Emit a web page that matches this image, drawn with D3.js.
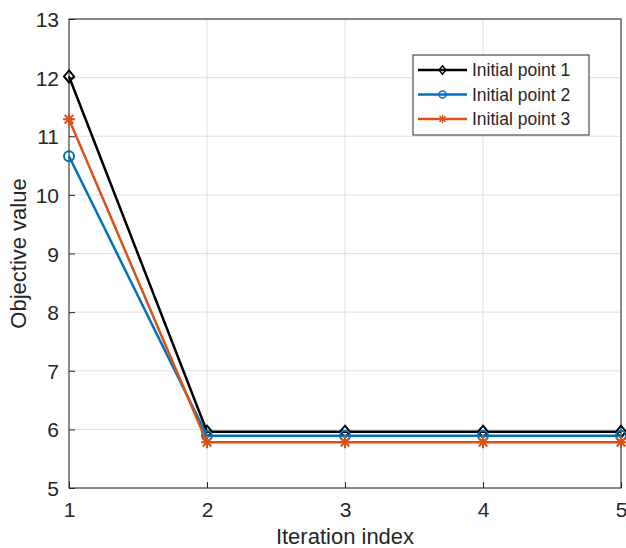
<!DOCTYPE html>
<html lang="en">
<head>
<meta charset="UTF-8">
<title>Objective value</title>
<script src="https://d3js.org/d3.v7.min.js"></script>
<style>
  body { margin: 0; background: #fff; }
  text { font-family: "Liberation Sans", Arial, sans-serif; fill: #262626; }
</style>
</head>
<body>
<div id="chart"></div>
<script>
// data
var iterations = [1, 2, 3, 4, 5];
var series1 = [12.02, 5.96, 5.96, 5.96, 5.96];
var series2 = [10.66, 5.89, 5.89, 5.89, 5.89];
var series3 = [11.29, 5.78, 5.78, 5.78, 5.78];
var seriesNames = ["Initial point 1", "Initial point 2", "Initial point 3"];
var xTicks = [1, 2, 3, 4, 5];
var yTicks = [5, 6, 7, 8, 9, 10, 11, 12, 13];

var colors = ["#000000", "#0072BD", "#D95319"];
var markers = ["diamond", "circle", "asterisk"];

var W = 626, H = 548;
var margin = {top: 19, right: 5, bottom: 60, left: 69};
var width = W - margin.left - margin.right,
    height = H - margin.top - margin.bottom;

var svg = d3.select("#chart").append("svg")
    .attr("width", W).attr("height", H);
var g = svg.append("g")
    .attr("transform", "translate(" + margin.left + "," + margin.top + ")");

var x = d3.scaleLinear().domain([1, 5]).range([0, width]);
var y = d3.scaleLinear().domain([5, 13]).range([height, 0]);

// grid
g.append("g").selectAll("line").data(xTicks).enter().append("line")
  .attr("x1", d => x(d)).attr("x2", d => x(d))
  .attr("y1", 0).attr("y2", height)
  .attr("stroke", "#dfdfdf").attr("stroke-width", 1);
g.append("g").selectAll("line").data(yTicks).enter().append("line")
  .attr("x1", 0).attr("x2", width)
  .attr("y1", d => y(d)).attr("y2", d => y(d))
  .attr("stroke", "#dfdfdf").attr("stroke-width", 1);

// axes (ticks inside, like matlab)
var xAxis = g.append("g")
  .attr("transform", "translate(0," + height + ")")
  .call(d3.axisBottom(x).tickValues(xTicks).tickFormat(d3.format("d"))
    .tickSizeInner(-6).tickSizeOuter(0).tickPadding(14));
var yAxis = g.append("g")
  .call(d3.axisLeft(y).tickValues(yTicks).tickFormat(d3.format("d"))
    .tickSizeInner(-6).tickSizeOuter(0).tickPadding(10));
[xAxis, yAxis].forEach(function(a) {
  a.select(".domain").remove();
  a.selectAll("line").attr("stroke", "#262626");
  a.selectAll("text").style("font-size", "21px")
    .style("font-family", "'Liberation Sans', Arial, sans-serif").attr("fill", "#262626");
});
xAxis.selectAll("text").attr("dy", "0.71em");
yAxis.selectAll("text").attr("dy", "0.36em");

// box
g.append("rect").attr("x", 0).attr("y", 0)
  .attr("width", width).attr("height", height)
  .attr("fill", "none").attr("stroke", "#262626").attr("stroke-width", 1);

function drawMarker(sel, type, color) {
  if (type === "diamond") {
    sel.append("path").attr("d", "M0,-6L5,0L0,6L-5,0Z")
      .attr("fill", "none").attr("stroke", color).attr("stroke-width", 2);
  } else if (type === "circle") {
    sel.append("circle").attr("r", 5)
      .attr("fill", "none").attr("stroke", color).attr("stroke-width", 2);
  } else {
    var p = "M-6,0L6,0M0,-6L0,6M-4.3,-4.3L4.3,4.3M-4.3,4.3L4.3,-4.3";
    sel.append("path").attr("d", p)
      .attr("fill", "none").attr("stroke", color).attr("stroke-width", 2);
  }
}

var allSeries = [series1, series2, series3];
var line = d3.line().x((d, i) => x(iterations[i])).y(d => y(d));

allSeries.forEach(function(s, k) {
  g.append("path").datum(s)
    .attr("d", line)
    .attr("fill", "none")
    .attr("stroke", colors[k])
    .attr("stroke-width", 2.5);
  g.append("g").selectAll("g").data(s).enter().append("g")
    .attr("transform", (d, i) => "translate(" + x(iterations[i]) + "," + y(d) + ")")
    .each(function() { drawMarker(d3.select(this), markers[k], colors[k]); });
});

// legend
var leg = svg.append("g").attr("transform", "translate(413,55)");
leg.append("rect").attr("width", 176).attr("height", 80)
  .attr("fill", "#fff").attr("stroke", "#262626").attr("stroke-width", 1);
seriesNames.forEach(function(name, k) {
  var yy = 15 + k * 24.5;
  leg.append("line").attr("x1", 5).attr("x2", 54)
    .attr("y1", yy).attr("y2", yy)
    .attr("stroke", colors[k]).attr("stroke-width", 2.5);
  var m = leg.append("g").attr("transform", "translate(29.5," + yy + ") scale(0.7)");
  drawMarker(m, markers[k], colors[k]);
  leg.append("text").attr("x", 59).attr("y", yy).attr("dy", "0.35em")
    .style("font-size", "17.5px").text(name);
});

// axis titles
svg.append("text")
  .attr("x", margin.left + width / 2).attr("y", 544)
  .attr("text-anchor", "middle")
  .style("font-size", "22px")
  .text("Iteration index");
svg.append("text")
  .attr("transform", "translate(26," + (margin.top + height / 2) + ") rotate(-90)")
  .attr("text-anchor", "middle")
  .style("font-size", "22px")
  .text("Objective value");
</script>
</body>
</html>
